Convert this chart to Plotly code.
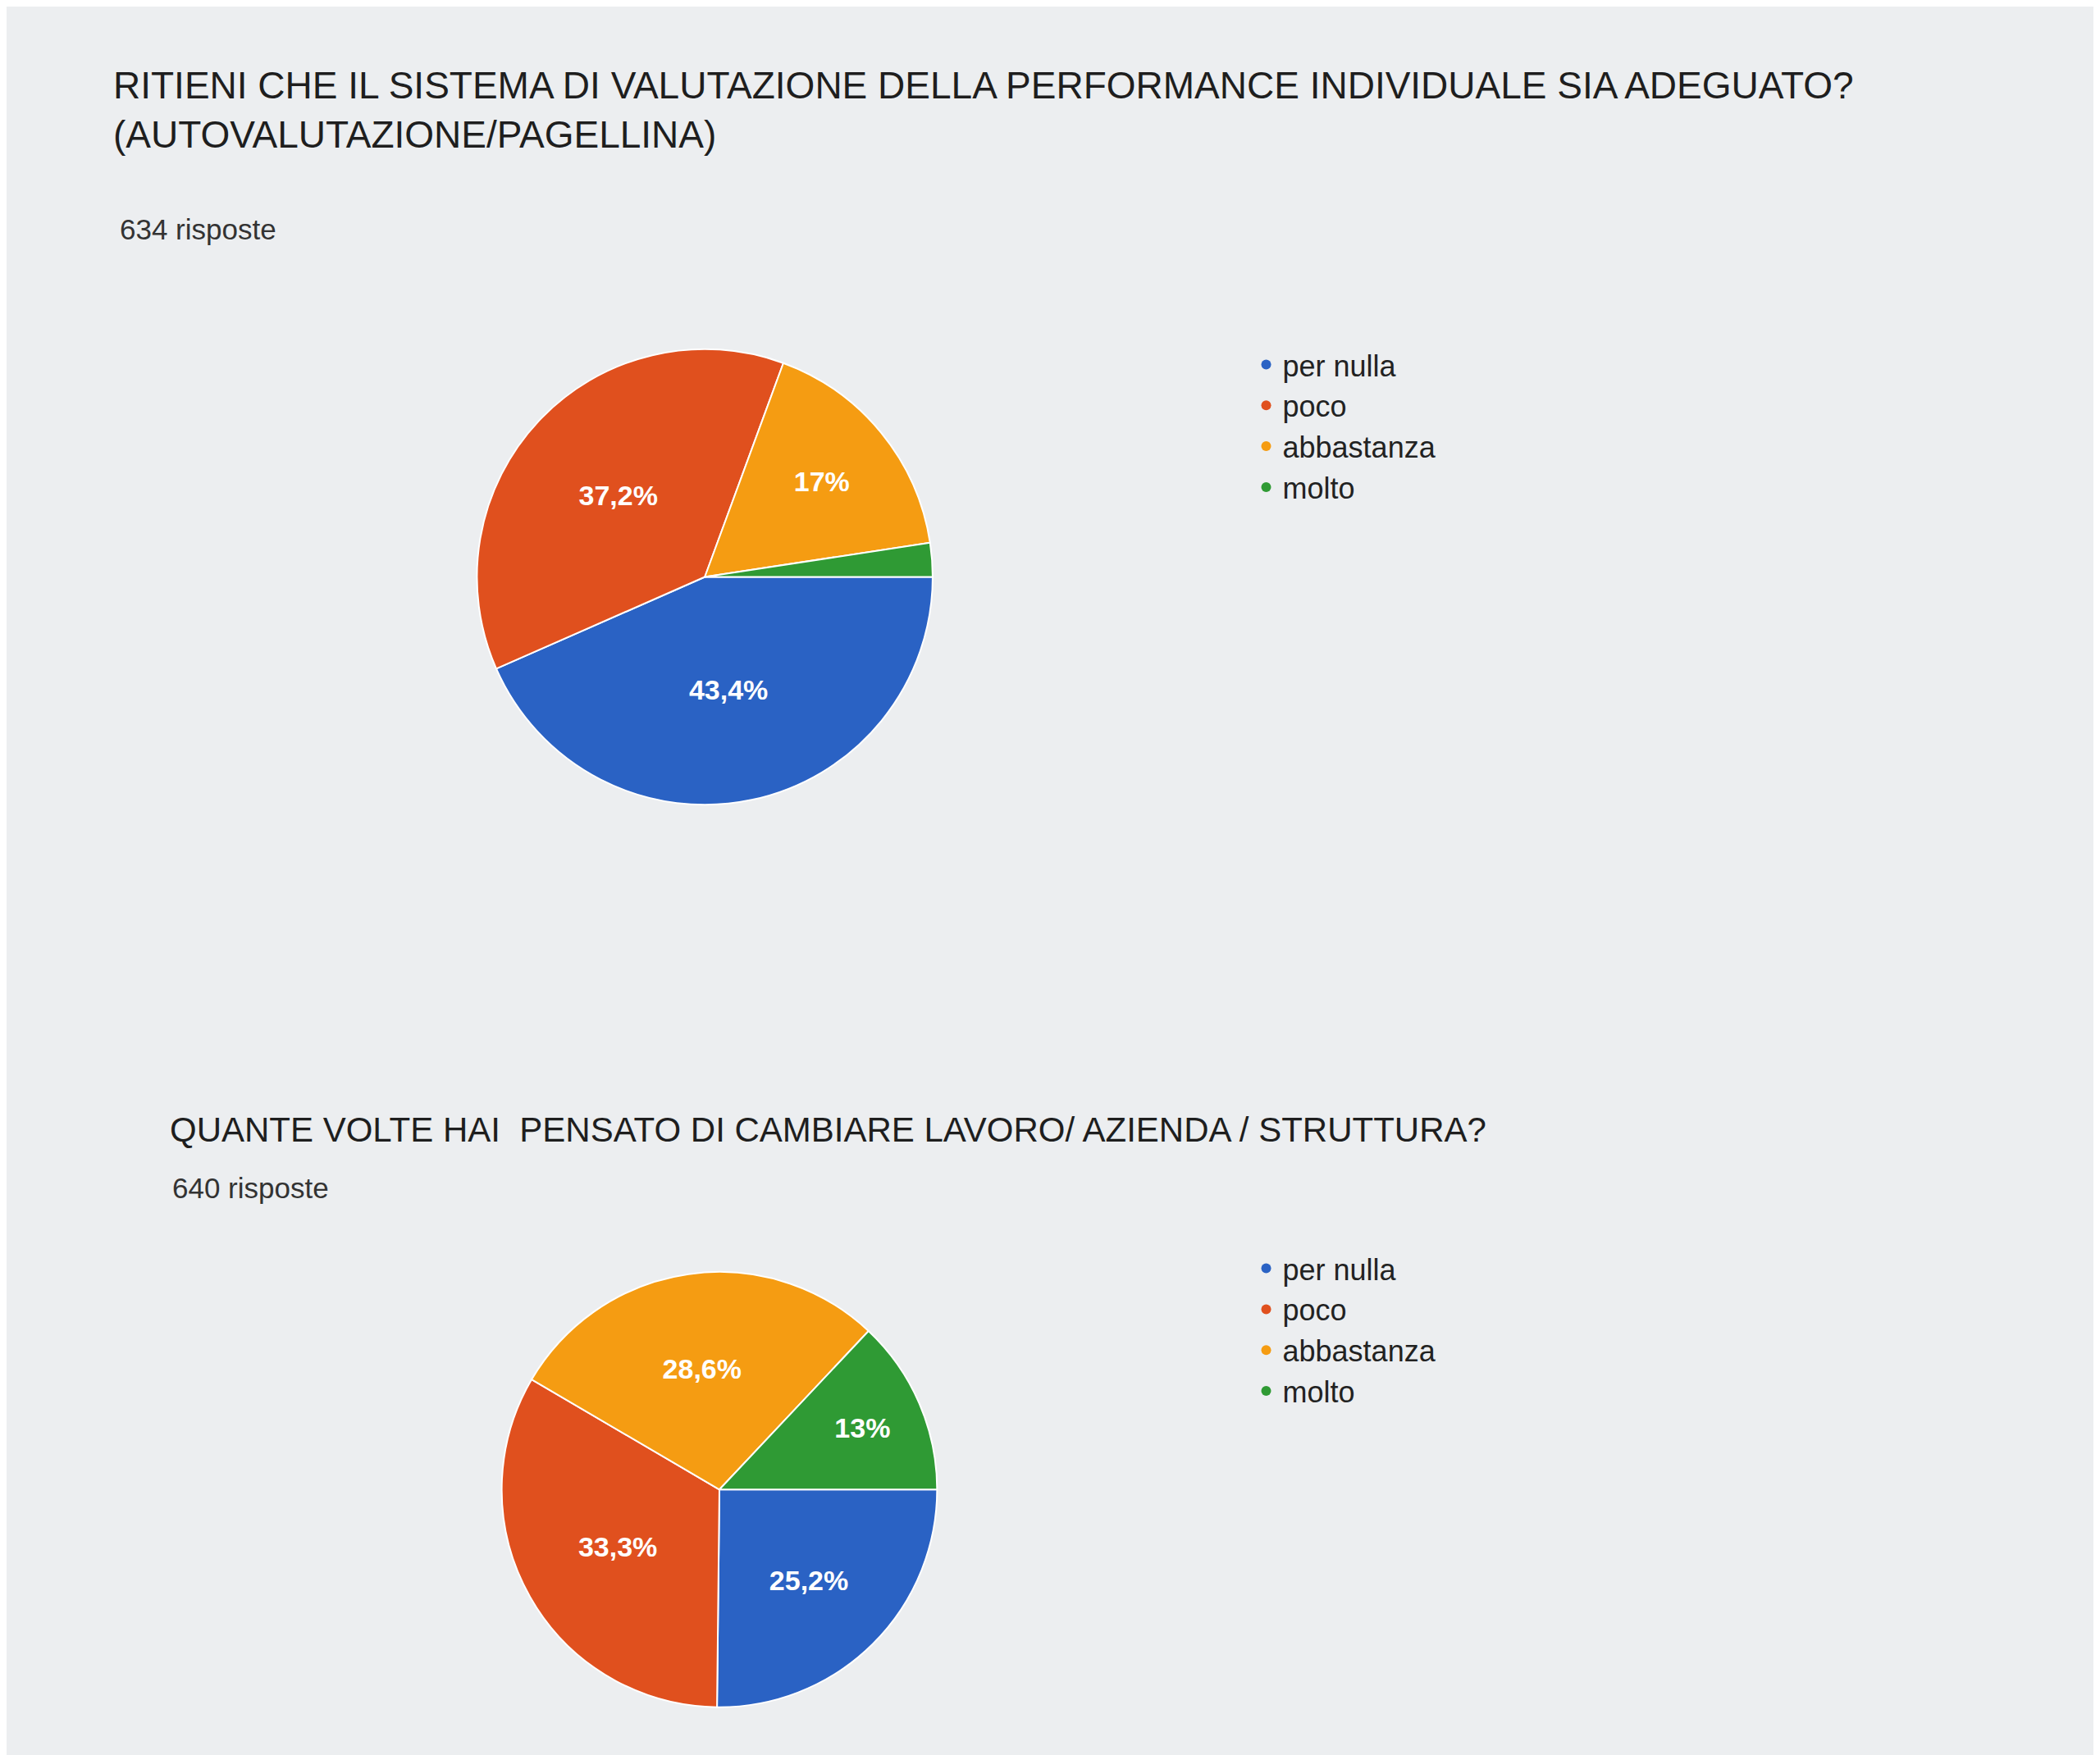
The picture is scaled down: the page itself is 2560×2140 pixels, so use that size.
import plotly.graph_objects as go

labels = ["per nulla", "poco", "abbastanza", "molto"]
colors = ["#2a62c4", "#e0501e", "#f59c12", "#2f9a34"]

title1 = "RITIENI CHE IL SISTEMA DI VALUTAZIONE DELLA PERFORMANCE INDIVIDUALE SIA ADEGUATO?<br>(AUTOVALUTAZIONE/PAGELLINA)"
n1 = 634
values1 = [43.4, 37.2, 17.0, 2.4]

title2 = "QUANTE VOLTE HAI  PENSATO DI CAMBIARE LAVORO/ AZIENDA / STRUTTURA?"
n2 = 640
values2 = [25.2, 33.3, 28.6, 13.0]


def pct_text(vals):
    out = []
    for v in vals:
        if v < 5:
            out.append("")
        else:
            out.append("<b>" + ("%g" % v).replace(".", ",") + "%</b>")
    return out


def make_pie(vals, domain):
    return go.Pie(
        labels=labels, values=vals, text=pct_text(vals), textinfo="text",
        sort=False, direction="clockwise", rotation=90, showlegend=False,
        marker=dict(colors=colors, line=dict(color="white", width=2)),
        textfont=dict(color="white", size=34, family="Liberation Sans"),
        insidetextorientation="horizontal",
        domain=domain, hoverinfo="label+percent",
    )


fig = go.Figure()
fig.add_trace(make_pie(values1, dict(x=[0.224, 0.441], y=[0.545, 0.805])))
fig.add_trace(make_pie(values2, dict(x=[0.2355, 0.4434], y=[0.031, 0.279])))

# circle legend entries (one set per chart)
for leg in ["legend", "legend2"]:
    for lab, col in zip(labels, colors):
        fig.add_trace(go.Scatter(x=[None], y=[None], mode="markers", name=lab,
                                 marker=dict(color=col, size=30, symbol="circle"),
                                 legend=leg, hoverinfo="skip"))

legend_style = dict(font=dict(size=36, family="Liberation Sans", color="#222"),
                    xanchor="left", yanchor="top", bgcolor="rgba(0,0,0,0)",
                    itemsizing="constant", tracegroupgap=0)

fig.update_layout(
    width=2560, height=2140,
    margin=dict(l=0, r=0, t=0, b=0),
    paper_bgcolor="#eceef0", plot_bgcolor="#eceef0",
    font=dict(family="Liberation Sans"),
    xaxis=dict(visible=False), yaxis=dict(visible=False),
    legend=dict(x=0.592, y=0.81, **legend_style),
    legend2=dict(x=0.592, y=0.295, **legend_style),
    annotations=[
        dict(text=title1, x=0.05, y=0.968, xref="paper", yref="paper", xanchor="left", yanchor="top",
             showarrow=False, align="left", font=dict(size=46, color="#1e1e1e")),
        dict(text=f"{n1} risposte", x=0.053, y=0.883, xref="paper", yref="paper", xanchor="left", yanchor="top",
             showarrow=False, font=dict(size=35, color="#333")),
        dict(text=title2, x=0.077, y=0.372, xref="paper", yref="paper", xanchor="left", yanchor="top",
             showarrow=False, font=dict(size=42, color="#1e1e1e")),
        dict(text=f"{n2} risposte", x=0.078, y=0.337, xref="paper", yref="paper", xanchor="left", yanchor="top",
             showarrow=False, font=dict(size=35, color="#333")),
    ],
)

fig.write_html("out.html")
